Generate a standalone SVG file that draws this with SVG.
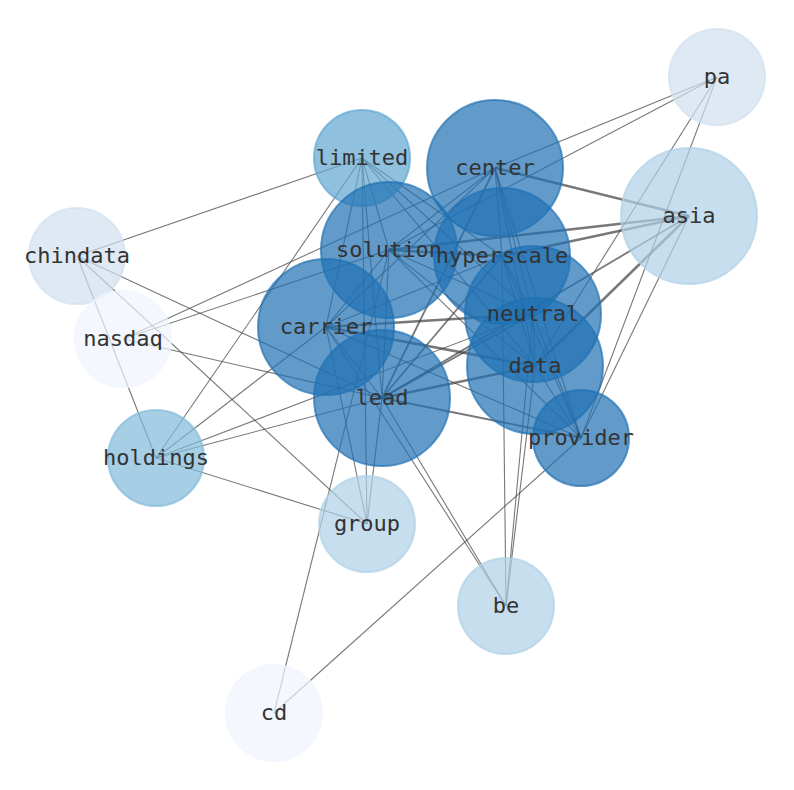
<svg xmlns="http://www.w3.org/2000/svg" width="794" height="790" viewBox="0 0 794 790">
<style>
.e{stroke:#444;stroke-opacity:0.72;stroke-width:1.1;fill:none}
.m{stroke-width:1.8}
.t{stroke-width:2.6}
.n{stroke-width:2;fill-opacity:0.7;stroke-opacity:0.7}
.d{fill:#2070b4;stroke:#2070b4}
.c2{fill:#5fa6d2;stroke:#5fa6d2}
.c3{fill:#80b9d9;stroke:#80b9d9}
.c4{fill:#aed0e6;stroke:#aed0e6}
.c5{fill:#d0e0f0;stroke:#d0e0f0}
.c6{fill:#eff5fd;stroke:#eff5fd}
text{font-family:"DejaVu Sans Mono","Liberation Mono",monospace;font-size:22px;fill:#333;text-anchor:middle;dominant-baseline:central}
</style>
<rect width="794" height="790" fill="#fff"/>
<g id="edges">
<line class="e" x1="717" y1="77" x2="495" y2="168"/>
<line class="e" x1="717" y1="77" x2="389" y2="250"/>
<line class="e" x1="717" y1="77" x2="535" y2="366"/>
<line class="e" x1="717" y1="77" x2="581" y2="438"/>
<line class="e t" x1="689" y1="216" x2="495" y2="168"/>
<line class="e t" x1="689" y1="216" x2="389" y2="250"/>
<line class="e t" x1="689" y1="216" x2="502" y2="256"/>
<line class="e t" x1="689" y1="216" x2="535" y2="366"/>
<line class="e m" x1="689" y1="216" x2="382" y2="398"/>
<line class="e" x1="689" y1="216" x2="581" y2="438"/>
<line class="e" x1="123" y1="339" x2="495" y2="168"/>
<line class="e" x1="123" y1="339" x2="389" y2="250"/>
<line class="e" x1="123" y1="339" x2="382" y2="398"/>
<line class="e" x1="77" y1="256" x2="362" y2="158"/>
<line class="e" x1="77" y1="256" x2="382" y2="398"/>
<line class="e" x1="77" y1="256" x2="367" y2="524"/>
<line class="e" x1="77" y1="256" x2="156" y2="458"/>
<line class="e" x1="156" y1="458" x2="362" y2="158"/>
<line class="e" x1="156" y1="458" x2="326" y2="327"/>
<line class="e" x1="156" y1="458" x2="533" y2="314"/>
<line class="e" x1="156" y1="458" x2="382" y2="398"/>
<line class="e" x1="156" y1="458" x2="367" y2="524"/>
<line class="e" x1="367" y1="524" x2="326" y2="327"/>
<line class="e" x1="367" y1="524" x2="362" y2="158"/>
<line class="e" x1="367" y1="524" x2="382" y2="398"/>
<line class="e" x1="506" y1="606" x2="382" y2="398"/>
<line class="e" x1="506" y1="606" x2="326" y2="327"/>
<line class="e" x1="506" y1="606" x2="533" y2="314"/>
<line class="e" x1="506" y1="606" x2="535" y2="366"/>
<line class="e" x1="506" y1="606" x2="502" y2="256"/>
<line class="e" x1="274" y1="713" x2="389" y2="250"/>
<line class="e" x1="274" y1="713" x2="581" y2="438"/>
<line class="e" x1="362" y1="158" x2="389" y2="250"/>
<line class="e" x1="362" y1="158" x2="326" y2="327"/>
<line class="e" x1="362" y1="158" x2="382" y2="398"/>
<line class="e" x1="362" y1="158" x2="502" y2="256"/>
<line class="e" x1="362" y1="158" x2="533" y2="314"/>
<line class="e" x1="362" y1="158" x2="535" y2="366"/>
<line class="e" x1="495" y1="168" x2="389" y2="250"/>
<line class="e" x1="495" y1="168" x2="502" y2="256"/>
<line class="e" x1="495" y1="168" x2="326" y2="327"/>
<line class="e" x1="495" y1="168" x2="533" y2="314"/>
<line class="e" x1="495" y1="168" x2="535" y2="366"/>
<line class="e m" x1="495" y1="168" x2="382" y2="398"/>
<line class="e" x1="495" y1="168" x2="581" y2="438"/>
<line class="e t" x1="389" y1="250" x2="502" y2="256"/>
<line class="e" x1="389" y1="250" x2="326" y2="327"/>
<line class="e" x1="389" y1="250" x2="533" y2="314"/>
<line class="e" x1="389" y1="250" x2="535" y2="366"/>
<line class="e" x1="389" y1="250" x2="382" y2="398"/>
<line class="e" x1="389" y1="250" x2="581" y2="438"/>
<line class="e" x1="502" y1="256" x2="326" y2="327"/>
<line class="e m" x1="502" y1="256" x2="382" y2="398"/>
<line class="e" x1="502" y1="256" x2="533" y2="314"/>
<line class="e" x1="502" y1="256" x2="535" y2="366"/>
<line class="e" x1="502" y1="256" x2="581" y2="438"/>
<line class="e t" x1="326" y1="327" x2="533" y2="314"/>
<line class="e t" x1="326" y1="327" x2="535" y2="366"/>
<line class="e" x1="326" y1="327" x2="382" y2="398"/>
<line class="e" x1="326" y1="327" x2="581" y2="438"/>
<line class="e" x1="533" y1="314" x2="535" y2="366"/>
<line class="e m" x1="533" y1="314" x2="382" y2="398"/>
<line class="e" x1="533" y1="314" x2="581" y2="438"/>
<line class="e t" x1="535" y1="366" x2="382" y2="398"/>
<line class="e" x1="535" y1="366" x2="581" y2="438"/>
<line class="e m" x1="382" y1="398" x2="581" y2="438"/>
</g>
<g id="nodes">
<g id="node-pa"><circle class="n c5" cx="717" cy="77" r="48"/></g>
<g id="node-asia"><circle class="n c4" cx="689" cy="216" r="68"/></g>
<g id="node-chindata"><circle class="n c5" cx="77" cy="256" r="48"/></g>
<g id="node-nasdaq"><circle class="n c6" cx="123" cy="339" r="48"/></g>
<g id="node-holdings"><circle class="n c3" cx="156" cy="458" r="48"/></g>
<g id="node-group"><circle class="n c4" cx="367" cy="524" r="48"/></g>
<g id="node-be"><circle class="n c4" cx="506" cy="606" r="48"/></g>
<g id="node-cd"><circle class="n c6" cx="274" cy="713" r="48"/></g>
<g id="node-limited"><circle class="n c2" cx="362" cy="158" r="48"/></g>
<g id="node-center"><circle class="n d" cx="495" cy="168" r="68"/></g>
<g id="node-solution"><circle class="n d" cx="389" cy="250" r="68"/></g>
<g id="node-hyperscale"><circle class="n d" cx="502" cy="256" r="68"/></g>
<g id="node-carrier"><circle class="n d" cx="326" cy="327" r="68"/></g>
<g id="node-neutral"><circle class="n d" cx="533" cy="314" r="68"/></g>
<g id="node-data"><circle class="n d" cx="535" cy="366" r="68"/></g>
<g id="node-lead"><circle class="n d" cx="382" cy="398" r="68"/></g>
<g id="node-provider"><circle class="n d" cx="581" cy="438" r="48"/></g>
</g>
<g id="labels">
<text id="label-pa" x="717" y="76">pa</text>
<text id="label-asia" x="689" y="215">asia</text>
<text id="label-chindata" x="77" y="255">chindata</text>
<text id="label-nasdaq" x="123" y="338">nasdaq</text>
<text id="label-holdings" x="156" y="457">holdings</text>
<text id="label-group" x="367" y="523">group</text>
<text id="label-be" x="506" y="605">be</text>
<text id="label-cd" x="274" y="712">cd</text>
<text id="label-limited" x="362" y="157">limited</text>
<text id="label-center" x="495" y="167">center</text>
<text id="label-solution" x="389" y="249">solution</text>
<text id="label-hyperscale" x="502" y="255">hyperscale</text>
<text id="label-carrier" x="326" y="326">carrier</text>
<text id="label-neutral" x="533" y="313">neutral</text>
<text id="label-data" x="535" y="365">data</text>
<text id="label-lead" x="382" y="397">lead</text>
<text id="label-provider" x="581" y="437">provider</text>
</g>
</svg>
